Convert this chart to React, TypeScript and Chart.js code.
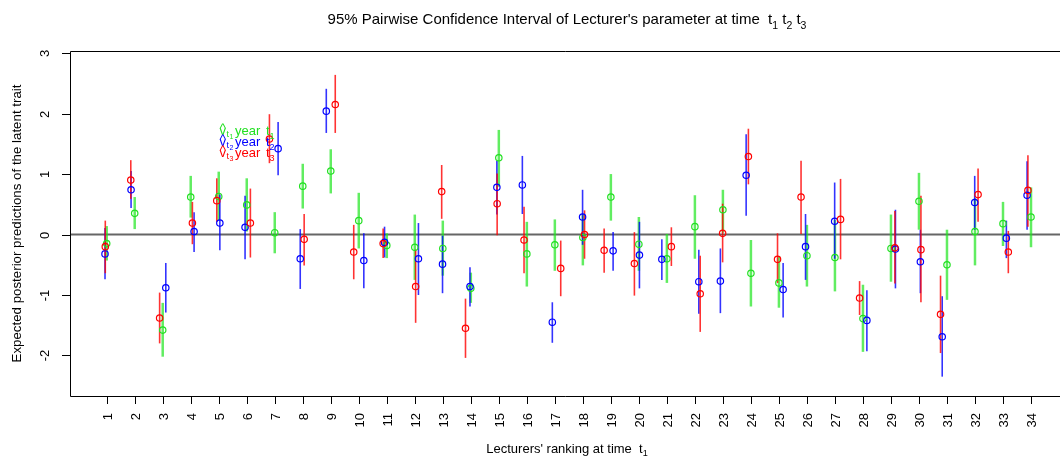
import React, { useEffect, useRef } from "react";
import { Chart, registerables } from "chart.js";

Chart.register(...registerables);

// ---------- data ----------
const lecturers = [1,2,3,4,5,6,7,8,9,10,11,12,13,14,15,16,17,18,19,20,21,22,23,24,25,26,27,28,29,30,31,32,33,34];
const xTickLabels = lecturers.map(String);
const yTickValues = [-2, -1, 0, 1, 2, 3];
const yTickLabels = ["-2", "-1", "0", "1", "2", "3"];

// time t1 (green), plotted at the lecturer's rank
const t1Est  = [-0.15,0.35,-1.58,0.62,0.63,0.49,0.03,0.80,1.05,0.23,-0.18,-0.21,-0.23,-0.89,1.27,-0.32,-0.17,-0.05,0.62,-0.16,-0.40,0.13,0.41,-0.64,-0.80,-0.35,-0.38,-1.39,-0.23,0.55,-0.50,0.05,0.18,0.29];
const t1Low  = [-0.43,0.09,-2.02,0.28,0.24,0.05,-0.31,0.43,0.68,-0.23,-0.39,-0.75,-0.68,-1.13,0.79,-0.86,-0.60,-0.51,0.23,-0.60,-0.80,-0.40,0.03,-1.19,-1.21,-0.86,-0.94,-1.94,-0.78,0.08,-1.08,-0.51,-0.19,-0.21];
const t1High = [0.14,0.62,-1.13,0.97,1.04,0.93,0.37,1.17,1.41,0.69,0.02,0.33,0.23,-0.63,1.73,0.21,0.25,0.34,1.00,0.29,0.01,0.65,0.74,-0.09,-0.36,0.16,0.24,-0.83,0.33,1.02,0.08,0.60,0.54,0.78];

// time t2 (blue)
const t2Pos  = [0.94,1.87,3.11,4.12,5.04,5.94,7.12,7.91,8.84,10.18,10.92,12.13,12.99,13.97,14.93,15.84,16.91,17.99,19.08,20.02,20.82,22.14,22.91,23.83,25.15,25.95,26.99,28.14,29.16,30.05,30.83,31.99,33.12,33.86];
const t2Est  = [-0.32,0.74,-0.88,0.05,0.19,0.12,1.42,-0.40,2.04,-0.43,-0.13,-0.40,-0.49,-0.86,0.78,0.82,-1.45,0.29,-0.27,-0.34,-0.41,-0.78,-0.77,0.98,-0.91,-0.20,0.22,-1.42,-0.24,-0.45,-1.69,0.53,-0.06,0.65];
const t2Low  = [-0.74,0.44,-1.29,-0.29,-0.26,-0.41,0.98,-0.90,1.68,-0.89,-0.38,-1.00,-0.97,-1.19,0.33,0.34,-1.79,-0.17,-0.60,-0.89,-0.75,-1.31,-1.30,0.31,-1.37,-0.75,-0.40,-1.93,-0.89,-0.97,-2.35,0.08,-0.39,0.08];
const t2High = [0.11,1.05,-0.47,0.37,0.66,0.64,1.86,0.09,2.41,0.02,0.13,0.19,-0.02,-0.54,1.22,1.30,-1.12,0.74,0.04,0.21,-0.08,-0.25,-0.23,1.66,-0.47,0.34,0.86,-0.92,0.41,0.08,-1.02,0.97,0.23,1.21];

// time t3 (red)
const t3Pos  = [0.95,1.86,2.89,4.06,4.93,6.13,6.81,8.05,9.16,9.82,10.87,12.03,12.96,13.81,14.94,15.90,17.21,18.06,18.76,19.84,21.16,22.19,22.99,23.91,24.95,25.79,27.20,27.88,29.14,30.07,30.77,32.11,33.19,33.89];
const t3Est  = [-0.20,0.90,-1.38,0.19,0.56,0.19,1.58,-0.08,2.15,-0.29,-0.15,-0.86,0.71,-1.55,0.51,-0.09,-0.56,0.00,-0.26,-0.48,-0.20,-0.98,0.02,1.29,-0.41,0.62,0.25,-1.05,-0.22,-0.25,-1.32,0.66,-0.29,0.73];
const t3Low  = [-0.64,0.59,-1.80,-0.16,0.21,-0.38,1.18,-0.51,1.68,-0.74,-0.39,-1.46,0.26,-2.04,-0.01,-0.64,-1.02,-0.40,-0.63,-1.01,-0.52,-1.61,-0.46,0.83,-0.80,0.01,-0.41,-1.33,-0.81,-1.12,-1.96,0.21,-0.64,0.13];
const t3High = [0.23,1.23,-0.96,0.54,0.93,0.76,1.99,0.34,2.64,0.16,0.10,-0.25,1.15,-1.06,1.01,0.46,-0.10,0.40,0.10,0.04,0.12,-0.35,0.51,1.75,0.02,1.22,0.92,-0.77,0.39,0.64,-0.68,1.09,0.06,1.31];

const titleText = "95% Pairwise Confidence Interval of Lecturer's parameter at time  t";
const xTitleText = "Lecturers' ranking at time  t";
const yTitleText = "Expected posterior predictions of the latent trait";

// ---------- styles ----------
const FONT = '"Liberation Sans", Arial, Helvetica, sans-serif';
const GREEN_PT = "#22e022";
const GREEN_LINE = "rgba(30,230,30,0.7)";
const BLUE = "#0000ff";
const BLUE_LINE = "rgba(0,0,255,0.8)";
const RED = "#ff0000";
const RED_LINE = "rgba(255,0,0,0.8)";

type Part = { t: string; sub?: boolean; size?: number };

function drawRich(ctx: CanvasRenderingContext2D, parts: Part[], x: number, y: number, size: number, align: "left" | "center") {
  ctx.textAlign = "left";
  ctx.textBaseline = "alphabetic";
  const widths = parts.map((p) => {
    const s = p.size ?? (p.sub ? size * 0.7 : size);
    ctx.font = `${s}px ${FONT}`;
    return ctx.measureText(p.t).width;
  });
  const total = widths.reduce((a, b) => a + b, 0);
  let cx = align === "center" ? x - total / 2 : x;
  parts.forEach((p, i) => {
    const s = p.size ?? (p.sub ? size * 0.7 : size);
    ctx.font = `${s}px ${FONT}`;
    ctx.fillText(p.t, cx, y + (p.sub ? size * 0.3 : 0));
    cx += widths[i];
  });
}

const errorBarPlugin = {
  id: "errorBars",
  beforeDatasetsDraw(chart: any) {
    const { ctx, chartArea, scales } = chart;
    const xs = scales.x, ys = scales.y;
    ctx.save();
    // zero reference line
    ctx.strokeStyle = "#666666";
    ctx.lineWidth = 2;
    ctx.beginPath();
    ctx.moveTo(chartArea.left, ys.getPixelForValue(0));
    ctx.lineTo(chartArea.right, ys.getPixelForValue(0));
    ctx.stroke();
    const groups = [
      { pos: lecturers, lo: t1Low, hi: t1High, color: GREEN_LINE, w: 2.5 },
      { pos: t2Pos, lo: t2Low, hi: t2High, color: BLUE_LINE, w: 1.6 },
      { pos: t3Pos, lo: t3Low, hi: t3High, color: RED_LINE, w: 1.6 },
    ];
    groups.forEach((g) => {
      ctx.strokeStyle = g.color;
      ctx.lineWidth = g.w;
      g.pos.forEach((p, i) => {
        const px = xs.getPixelForValue(p);
        ctx.beginPath();
        ctx.moveTo(px, ys.getPixelForValue(g.lo[i]));
        ctx.lineTo(px, ys.getPixelForValue(g.hi[i]));
        ctx.stroke();
      });
    });
    ctx.restore();
  },
  afterDraw(chart: any) {
    const { ctx, chartArea, scales } = chart;
    const xs = scales.x, ys = scales.y;
    const L = chartArea.left, T = chartArea.top, B = chartArea.bottom, R = chartArea.right;
    ctx.save();
    // box
    ctx.strokeStyle = "#000";
    ctx.lineWidth = 1;
    ctx.beginPath();
    ctx.moveTo(R, T + 0.5);
    ctx.lineTo(L + 0.5, T + 0.5);
    ctx.lineTo(L + 0.5, B + 0.5);
    ctx.lineTo(R, B + 0.5);
    ctx.stroke();
    // y ticks
    ctx.fillStyle = "#000";
    yTickValues.forEach((v, i) => {
      const py = Math.round(ys.getPixelForValue(v)) + 0.5;
      ctx.beginPath();
      ctx.moveTo(L + 0.5, py);
      ctx.lineTo(L - 8, py);
      ctx.stroke();
      ctx.save();
      ctx.translate(L - 21.5, py);
      ctx.rotate(-Math.PI / 2);
      ctx.font = `13px ${FONT}`;
      ctx.textAlign = "center";
      ctx.textBaseline = "alphabetic";
      ctx.fillText(yTickLabels[i], 0, 0);
      ctx.restore();
    });
    // x ticks
    lecturers.forEach((v, i) => {
      const px = Math.round(xs.getPixelForValue(v)) + 0.5;
      ctx.beginPath();
      ctx.moveTo(px, B + 0.5);
      ctx.lineTo(px, B + 8);
      ctx.stroke();
      ctx.save();
      ctx.translate(px + 4.5, B + 17);
      ctx.rotate(-Math.PI / 2);
      ctx.font = `13px ${FONT}`;
      ctx.textAlign = "right";
      ctx.textBaseline = "alphabetic";
      ctx.fillText(xTickLabels[i], 0, 0);
      ctx.restore();
    });
    const cxMid = (L + 1064) / 2;
    // title
    ctx.fillStyle = "#000";
    drawRich(ctx, [{ t: titleText }, { t: "1", sub: true }, { t: " t" }, { t: "2", sub: true }, { t: " t" }, { t: "3", sub: true }], cxMid, 24, 15, "center");
    // x title
    drawRich(ctx, [{ t: xTitleText }, { t: "1", sub: true }], cxMid, 452.5, 13, "center");
    // y title
    ctx.save();
    ctx.translate(21, (T + B) / 2);
    ctx.rotate(-Math.PI / 2);
    ctx.font = `13.3px ${FONT}`;
    ctx.textAlign = "center";
    ctx.textBaseline = "alphabetic";
    ctx.fillText(yTitleText, 0, 0);
    ctx.restore();
    // in-plot legend
    const legendRows = [
      { c: GREEN_PT, n: "1", b: 135 },
      { c: BLUE, n: "2", b: 146 },
      { c: RED, n: "3", b: 157 },
    ];
    legendRows.forEach((r) => {
      ctx.fillStyle = r.c;
      ctx.textAlign = "left";
      ctx.textBaseline = "alphabetic";
      ctx.font = `13px ${FONT}`;
      const vx = 219.5;
      const vw = ctx.measureText("v").width;
      ctx.fillText("v", vx, r.b);
      ctx.textAlign = "center";
      ctx.fillText("^", vx + vw / 2, r.b - 3);
      ctx.textAlign = "left";
      ctx.font = `9px ${FONT}`;
      ctx.fillText("t", vx + vw + 0.5, r.b + 2);
      ctx.font = `7px ${FONT}`;
      ctx.fillText(r.n, vx + vw + 3.5, r.b + 4);
      ctx.font = `13px ${FONT}`;
      ctx.fillText("year", 235, r.b);
      drawRich(ctx, [{ t: "t" }, { t: r.n, sub: true }], 266, r.b, 13, "left");
    });
    ctx.restore();
  },
};

export default function App() {
  const canvasRef = useRef<HTMLCanvasElement | null>(null);
  useEffect(() => {
    if (!canvasRef.current) return;
    const mk = (pos: number[], est: number[]) => pos.map((p, i) => ({ x: p, y: est[i] }));
    const chart = new Chart(canvasRef.current, {
      type: "scatter",
      data: {
        datasets: [
          { label: "t1", data: mk(lecturers, t1Est), borderColor: GREEN_PT, backgroundColor: "rgba(0,0,0,0)", pointRadius: 3.2, pointBorderWidth: 1.2, order: 3 },
          { label: "t2", data: mk(t2Pos, t2Est), borderColor: BLUE, backgroundColor: "rgba(0,0,0,0)", pointRadius: 3.2, pointBorderWidth: 1.2, order: 2 },
          { label: "t3", data: mk(t3Pos, t3Est), borderColor: RED, backgroundColor: "rgba(0,0,0,0)", pointRadius: 3.2, pointBorderWidth: 1.2, order: 1 },
        ],
      },
      options: {
        responsive: false,
        animation: false,
        devicePixelRatio: 1,
        layout: { autoPadding: false, padding: { left: 70, top: 51, right: 0, bottom: 63 } },
        scales: {
          x: { type: "linear", min: -0.31, max: 35.035, display: false },
          y: { type: "linear", min: -2.67, max: 3.035, display: false },
        },
        plugins: { legend: { display: false }, tooltip: { enabled: false }, title: { display: false } },
        events: [],
      },
      plugins: [errorBarPlugin],
    } as any);
    return () => chart.destroy();
  }, []);
  return (
    <div style={{ position: "absolute", left: 0, top: 0, width: 1060, height: 459, background: "#fff" }}>
      <canvas ref={canvasRef} width={1060} height={459} style={{ display: "block" }} />
    </div>
  );
}
